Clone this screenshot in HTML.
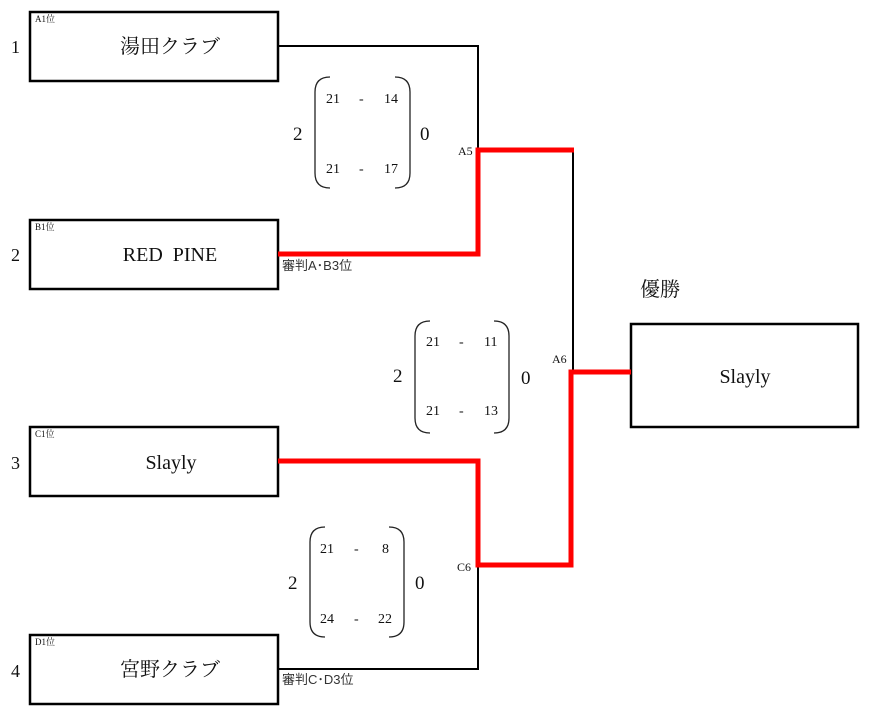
<!DOCTYPE html>
<html><head><meta charset="utf-8"><style>
html,body{margin:0;padding:0;background:#fff;width:881px;height:719px;overflow:hidden}
svg{display:block}
text{font-family:"Liberation Serif","Noto Serif CJK JP",serif;fill:#111}
text.s{font-size:9px}
text.n{font-size:18px}
text.b{font-size:19px}
text.m{font-size:14px}
text.nm{font-size:20px}
text.l{font-size:12px}
text.j{font-family:"Liberation Sans","Noto Sans CJK JP",sans-serif;font-size:13px;fill:#333}
</style></head><body>
<svg width="881" height="719" viewBox="0 0 881 719" xmlns="http://www.w3.org/2000/svg">
<g fill="none" stroke="#000" stroke-width="2.5">
<rect x="30" y="12" width="248" height="69"/>
<rect x="30" y="220" width="248" height="69"/>
<rect x="30" y="427" width="248" height="69"/>
<rect x="30" y="635" width="248" height="69"/>
<rect x="631" y="324" width="227" height="103"/>
</g>
<g fill="none" stroke="#000" stroke-width="2">
<polyline points="278,46 478,46 478,150"/>
<line x1="573" y1="150" x2="573" y2="372"/>
<polyline points="478,565 478,669 278,669"/>
</g>
<g fill="none" stroke="#f00" stroke-width="5">
<polyline points="278,254 478,254 478,150 574,150"/>
<polyline points="631,372 571,372 571,565 478,565 478,461 278,461"/>
</g>
<g fill="none" stroke="#222" stroke-width="1.3">
<path d="M330,77 Q315,77 315,92 L315,173 Q315,188 330,188"/>
<path d="M395,77 Q410,77 410,92 L410,173 Q410,188 395,188"/>
<path d="M430,321 Q415,321 415,336 L415,418 Q415,433 430,433"/>
<path d="M494,321 Q509,321 509,336 L509,418 Q509,433 494,433"/>
<path d="M325,527 Q310,527 310,542 L310,622 Q310,637 325,637"/>
<path d="M389,527 Q404,527 404,542 L404,622 Q404,637 389,637"/>
</g>
<text class="s" x="35" y="22">A1位</text>
<text class="s" x="35" y="230">B1位</text>
<text class="s" x="35" y="437">C1位</text>
<text class="s" x="35" y="645">D1位</text>
<text class="n" x="11" y="53">1</text>
<text class="n" x="11" y="261">2</text>
<text class="n" x="11" y="469">3</text>
<text class="n" x="11" y="677">4</text>
<text class="nm" x="170" y="53" text-anchor="middle">湯田クラブ</text>
<text class="nm" x="170" y="261" text-anchor="middle">RED&#160;&#160;PINE</text>
<text class="nm" x="171" y="469" text-anchor="middle">Slayly</text>
<text class="nm" x="170" y="676" text-anchor="middle">宮野クラブ</text>
<text class="nm" x="745" y="383" text-anchor="middle">Slayly</text>
<text class="nm" x="640" y="296">優勝</text>
<text class="j" x="282" y="270">審判A･B3位</text>
<text class="j" x="282" y="684">審判C･D3位</text>
<text class="l" x="458" y="155">A5</text>
<text class="l" x="552" y="363">A6</text>
<text class="l" x="457" y="571">C6</text>
<text class="b" x="293" y="140">2</text><text class="b" x="420" y="140">0</text>
<text class="m" x="326" y="103">21</text><text class="m" x="359" y="103">-</text><text class="m" x="384" y="103">14</text>
<text class="m" x="326" y="173">21</text><text class="m" x="359" y="173">-</text><text class="m" x="384" y="173">17</text>
<text class="b" x="393" y="382">2</text><text class="b" x="521" y="384">0</text>
<text class="m" x="426" y="346">21</text><text class="m" x="459" y="346">-</text><text class="m" x="484" y="346">11</text>
<text class="m" x="426" y="415">21</text><text class="m" x="459" y="415">-</text><text class="m" x="484" y="415">13</text>
<text class="b" x="288" y="589">2</text><text class="b" x="415" y="589">0</text>
<text class="m" x="320" y="553">21</text><text class="m" x="354" y="553">-</text><text class="m" x="382" y="553">8</text>
<text class="m" x="320" y="623">24</text><text class="m" x="354" y="623">-</text><text class="m" x="378" y="623">22</text>
</svg>
</body></html>
